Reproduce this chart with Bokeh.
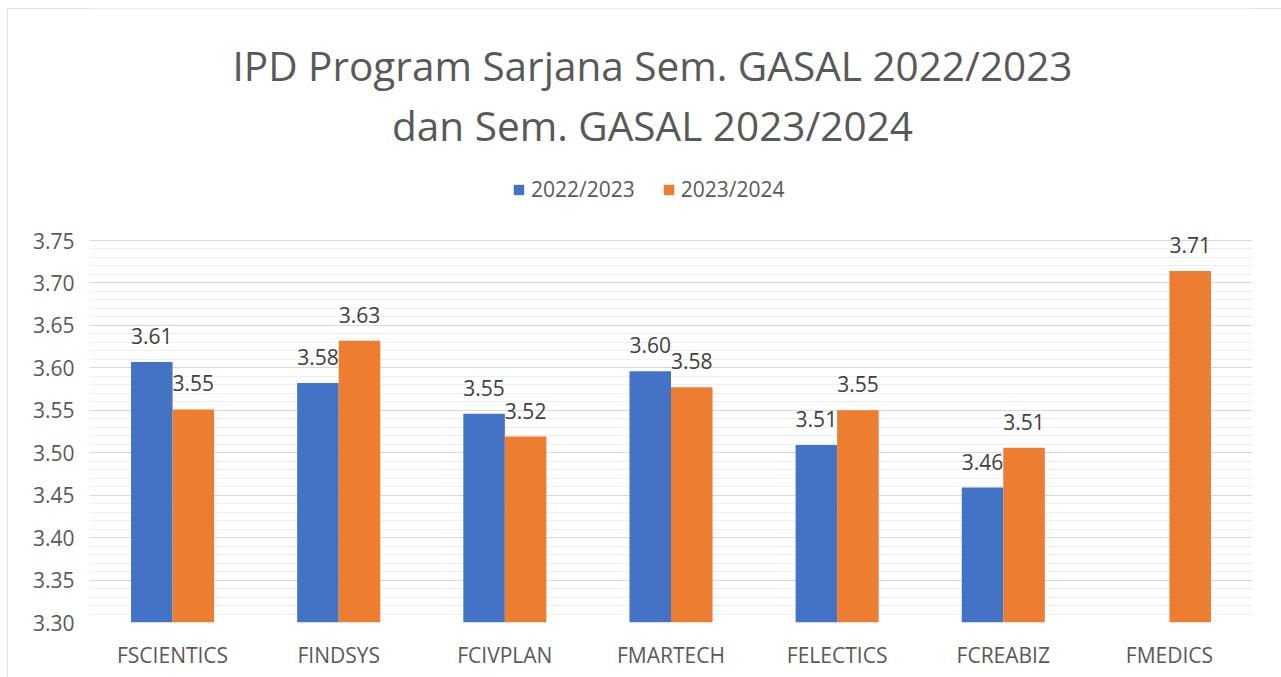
from bokeh.plotting import figure
from bokeh.models import (ColumnDataSource, FactorRange, Range1d, FixedTicker,
                          PrintfTickFormatter, Legend, LegendItem, LabelSet, Label)
from bokeh.core.properties import value
from bokeh.transform import dodge
from bokeh.embed import file_html
from bokeh.resources import INLINE

# ---- data ----
categories = ["FSCIENTICS", "FINDSYS", "FCIVPLAN", "FMARTECH", "FELECTICS", "FCREABIZ", "FMEDICS"]
ipd_2022 = [3.607, 3.582, 3.546, 3.596, 3.509, 3.459, None]
ipd_2023 = [3.551, 3.632, 3.519, 3.577, 3.550, 3.506, 3.714]
series_names = ["2022/2023", "2023/2024"]
y_ticks = [3.30, 3.35, 3.40, 3.45, 3.50, 3.55, 3.60, 3.65, 3.70, 3.75]
title_lines = ["IPD Program Sarjana Sem. GASAL 2022/2023", "dan Sem. GASAL 2023/2024"]

BLUE = "#4472C4"
ORANGE = "#ED7D31"
FONT = "Open Sans"

nan = float("nan")
src = ColumnDataSource(dict(
    cat=categories,
    a=[nan if v is None else v for v in ipd_2022],
    b=ipd_2023,
))
lab_a = ColumnDataSource(dict(
    cat=[c for c, v in zip(categories, ipd_2022) if v is not None],
    y=[v for v in ipd_2022 if v is not None],
    t=["%.2f" % v for v in ipd_2022 if v is not None],
))
lab_b = ColumnDataSource(dict(
    cat=categories,
    y=ipd_2023,
    t=["%.2f" % v for v in ipd_2023],
))

# ---- layout (pixels) ----
W, H = 1274, 669
B_LEFT, B_RIGHT, B_BOTTOM = 82, 29, 55
PLOT_H = 382                       # height of the value area (3.30 .. 3.75)
FRAME_H = H - B_BOTTOM             # frame reaches the top so title/legend fit in it
y_lo, y_hi = y_ticks[0], y_ticks[-1]
y_top = y_lo + (y_hi - y_lo) * FRAME_H / PLOT_H

p = figure(width=W, height=H, x_range=FactorRange(*categories, range_padding=0),
           y_range=Range1d(y_lo, y_top),
           output_backend="svg", toolbar_location=None,
           min_border_left=B_LEFT, min_border_right=B_RIGHT, min_border_top=0,
           min_border_bottom=B_BOTTOM)
p.margin = (8, 0, 0, 7)
p.styles = {"outline": "1px solid #D9D9D9", "outline-offset": "-1px"}
p.outline_line_color = None
p.background_fill_color = "white"
p.border_fill_color = "white"

minor = [round(y_lo + 0.01 * i, 2) for i in range(46)]
p.yaxis.ticker = FixedTicker(ticks=y_ticks, minor_ticks=minor)
p.yaxis.formatter = PrintfTickFormatter(format="%.2f")
for ax in (p.xaxis[0], p.yaxis[0]):
    ax.axis_line_color = None
    ax.major_tick_line_color = None
    ax.minor_tick_line_color = None
    ax.major_label_text_font = FONT
    ax.major_label_text_font_size = "21px"
    ax.major_label_text_color = "#595959"
p.yaxis.major_label_standoff = 9
p.xaxis.major_label_standoff = 12
p.xgrid.grid_line_color = None
p.ygrid.grid_line_color = "#D9D9D9"
p.ygrid.grid_line_width = 1
p.ygrid.minor_grid_line_color = "#EFEFEF"
p.ygrid.minor_grid_line_width = 1

r1 = p.vbar(x=dodge("cat", -0.125, range=p.x_range), top="a", bottom=y_lo, width=0.25,
            source=src, fill_color=BLUE, line_color=None)
r2 = p.vbar(x=dodge("cat", 0.125, range=p.x_range), top="b", bottom=y_lo, width=0.25,
            source=src, fill_color=ORANGE, line_color=None)

for s, off in ((lab_a, -0.125), (lab_b, 0.125)):
    p.add_layout(LabelSet(x=dodge("cat", off, range=p.x_range), y="y", text="t", source=s,
                          y_offset=18, text_align="center", text_baseline="alphabetic",
                          text_font=value(FONT), text_font_size="21px", text_color="#404040"))

for line, ty in zip(title_lines, (557, 497)):
    p.add_layout(Label(x=563, y=ty, x_units="screen", y_units="screen", text=line,
                       text_align="center", text_baseline="alphabetic",
                       text_font=FONT, text_font_size="40.5px", text_color="#595959"))

legend = Legend(items=[LegendItem(label=series_names[0], renderers=[r1]),
                       LegendItem(label=series_names[1], renderers=[r2])],
                location=(423, 419), orientation="horizontal",
                glyph_width=13, glyph_height=13, label_standoff=6, spacing=27,
                padding=0, margin=0, border_line_color=None, background_fill_alpha=0,
                label_text_font=FONT, label_text_font_size="21px", label_text_color="#595959")
p.add_layout(legend, "center")

open("out.html", "w").write(file_html(p, INLINE))
